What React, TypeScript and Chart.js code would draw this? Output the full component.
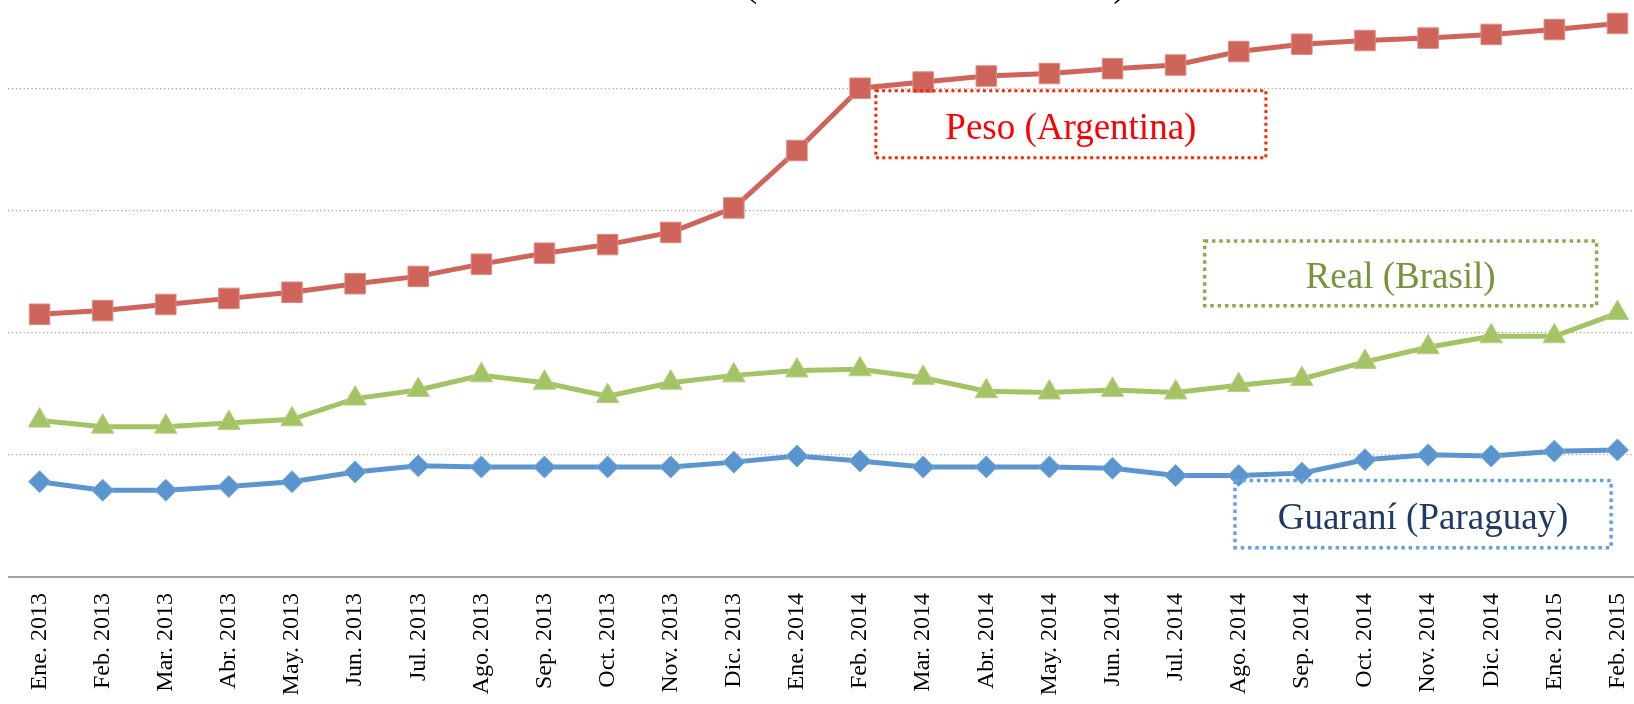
import React, { useEffect, useRef } from 'react';
import { Chart, registerables } from 'chart.js';

Chart.register(...registerables);

const categories = [
  'Ene. 2013', 'Feb. 2013', 'Mar. 2013', 'Abr. 2013', 'May. 2013', 'Jun. 2013',
  'Jul. 2013', 'Ago. 2013', 'Sep. 2013', 'Oct. 2013', 'Nov. 2013', 'Dic. 2013',
  'Ene. 2014', 'Feb. 2014', 'Mar. 2014', 'Abr. 2014', 'May. 2014', 'Jun. 2014',
  'Jul. 2014', 'Ago. 2014', 'Sep. 2014', 'Oct. 2014', 'Nov. 2014', 'Dic. 2014',
  'Ene. 2015', 'Feb. 2015',
];

const pesoArgentina = [
  2.15, 2.18, 2.23, 2.28, 2.33, 2.40, 2.46, 2.56, 2.65, 2.72, 2.82, 3.02, 3.49,
  4.00, 4.05, 4.10, 4.12, 4.16, 4.19, 4.30, 4.36, 4.39, 4.41, 4.44, 4.48, 4.53,
];

const realBrasil = [
  1.28, 1.23, 1.23, 1.26, 1.29, 1.46, 1.53, 1.65, 1.59, 1.48, 1.59, 1.65, 1.69,
  1.70, 1.63, 1.52, 1.51, 1.53, 1.51, 1.57, 1.62, 1.76, 1.88, 1.97, 1.97, 2.16,
];

const guaraniParaguay = [
  0.78, 0.71, 0.71, 0.74, 0.78, 0.86, 0.91, 0.90, 0.90, 0.90, 0.90, 0.94, 0.99,
  0.95, 0.90, 0.90, 0.90, 0.89, 0.83, 0.83, 0.85, 0.96, 1.00, 0.99, 1.03, 1.04,
];

const yMin = 0;
const yMax = 5;
const yStep = 1;

const seriesNames = ['Peso (Argentina)', 'Real (Brasil)', 'Guaraní (Paraguay)'];
const titleText = '(Índice Ene. 2013 = 100)';

const SERIF = '"Liberation Serif", "Times New Roman", serif';

const labelBoxes = [
  { text: seriesNames[0], xFrom: 13.25, xTo: 19.43, yFrom: 3.98, yTo: 3.43, textColor: '#FF0000', borderColor: '#FF2400', lineWidth: 3, dash: [3, 3.3] },
  { text: seriesNames[1], xFrom: 18.46, xTo: 24.67, yFrom: 2.75, yTo: 2.22, textColor: '#77933C', borderColor: '#8CAA4F', lineWidth: 3.5, dash: [3.5, 3.8] },
  { text: seriesNames[2], xFrom: 18.94, xTo: 24.9, yFrom: 0.79, yTo: 0.24, textColor: '#1F3A64', borderColor: '#63A1E2', lineWidth: 3.5, dash: [3.5, 3.8] },
];

const overlayPlugin = {
  id: 'overlayLabels',
  afterDatasetsDraw(chart: any) {
    const { ctx } = chart;
    const x = chart.scales.x;
    const y = chart.scales.y;
    ctx.save();
    labelBoxes.forEach((b) => {
      const l = x.getPixelForValue(b.xFrom);
      const r = x.getPixelForValue(b.xTo);
      const t = y.getPixelForValue(b.yFrom);
      const btm = y.getPixelForValue(b.yTo);
      ctx.setLineDash(b.dash);
      ctx.lineWidth = b.lineWidth;
      ctx.strokeStyle = b.borderColor;
      ctx.lineCap = 'butt';
      ctx.strokeRect(l, t, r - l, btm - t);
      ctx.setLineDash([]);
      ctx.fillStyle = b.textColor;
      ctx.font = `37px ${SERIF}`;
      ctx.textAlign = 'center';
      ctx.textBaseline = 'middle';
      ctx.fillText(b.text, (l + r) / 2, (t + btm) / 2 + 5);
    });
    ctx.font = `38px ${SERIF}`;
    ctx.fillStyle = '#000';
    ctx.textAlign = 'center';
    ctx.textBaseline = 'alphabetic';
    ctx.fillText(titleText, x.getPixelForValue(14.19), y.getPixelForValue(yMax) + 30);
    ctx.restore();
  },
};

export default function App() {
  const ref = useRef<HTMLCanvasElement | null>(null);

  useEffect(() => {
    if (!ref.current) return;
    const chart = new Chart(ref.current, {
      type: 'line',
      data: {
        labels: categories,
        datasets: [
          {
            label: seriesNames[0],
            data: pesoArgentina,
            borderColor: '#CF645A',
            backgroundColor: '#CF645A',
            borderWidth: 5,
            pointStyle: 'rect',
            pointRadius: 14.5,
            pointBorderWidth: 1,
            pointBorderColor: '#E08A82',
            tension: 0,
          },
          {
            label: seriesNames[1],
            data: realBrasil,
            borderColor: '#A4C364',
            backgroundColor: '#A4C364',
            borderWidth: 5,
            pointStyle: 'triangle',
            pointRadius: 13,
            pointBorderWidth: 1,
            pointBorderColor: '#B8D186',
            tension: 0,
          },
          {
            label: seriesNames[2],
            data: guaraniParaguay,
            borderColor: '#5B95D0',
            backgroundColor: '#5B95D0',
            borderWidth: 5,
            pointStyle: 'rectRot',
            pointRadius: 11,
            pointBorderWidth: 1,
            pointBorderColor: '#79A9DA',
            tension: 0,
          },
        ],
      },
      options: {
        responsive: false,
        animation: false,
        devicePixelRatio: 1,
        layout: { autoPadding: false, padding: { top: 6, left: 0, right: 0, bottom: 0 } },
        plugins: {
          legend: { display: false },
          title: { display: false },
          tooltip: { enabled: false },
        },
        scales: {
          x: {
            offset: true,
            grid: { display: false, drawTicks: false },
            border: { display: true, color: '#A0A0A0', width: 2 },
            ticks: {
              autoSkip: false,
              maxRotation: 90,
              minRotation: 90,
              padding: 16,
              color: '#000',
              font: { family: SERIF, size: 24 },
            },
            afterFit: (s: any) => {
              s.height = 140;
              s.paddingLeft = 0;
              s.paddingRight = 0;
            },
          },
          y: {
            min: yMin,
            max: yMax,
            ticks: { display: false, stepSize: yStep },
            grid: {
              drawTicks: false,
              color: '#A6A6A6',
              lineWidth: 1.3,
            },
            border: { display: false, dash: [1.3, 2.6] },
            afterFit: (s: any) => {
              s.width = 0;
              s.paddingTop = 0;
              s.paddingBottom = 0;
            },
          },
        },
      },
      plugins: [overlayPlugin],
    });
    return () => chart.destroy();
  }, []);

  return (
    <div style={{ position: 'fixed', left: 0, top: 0, width: '100vw', height: '100vh', overflow: 'hidden', background: '#fff' }}>
      <canvas
        ref={ref}
        width={1641}
        height={757}
        style={{ position: 'absolute', left: 8, top: -40, width: 1641, height: 757 }}
      />
    </div>
  );
}
